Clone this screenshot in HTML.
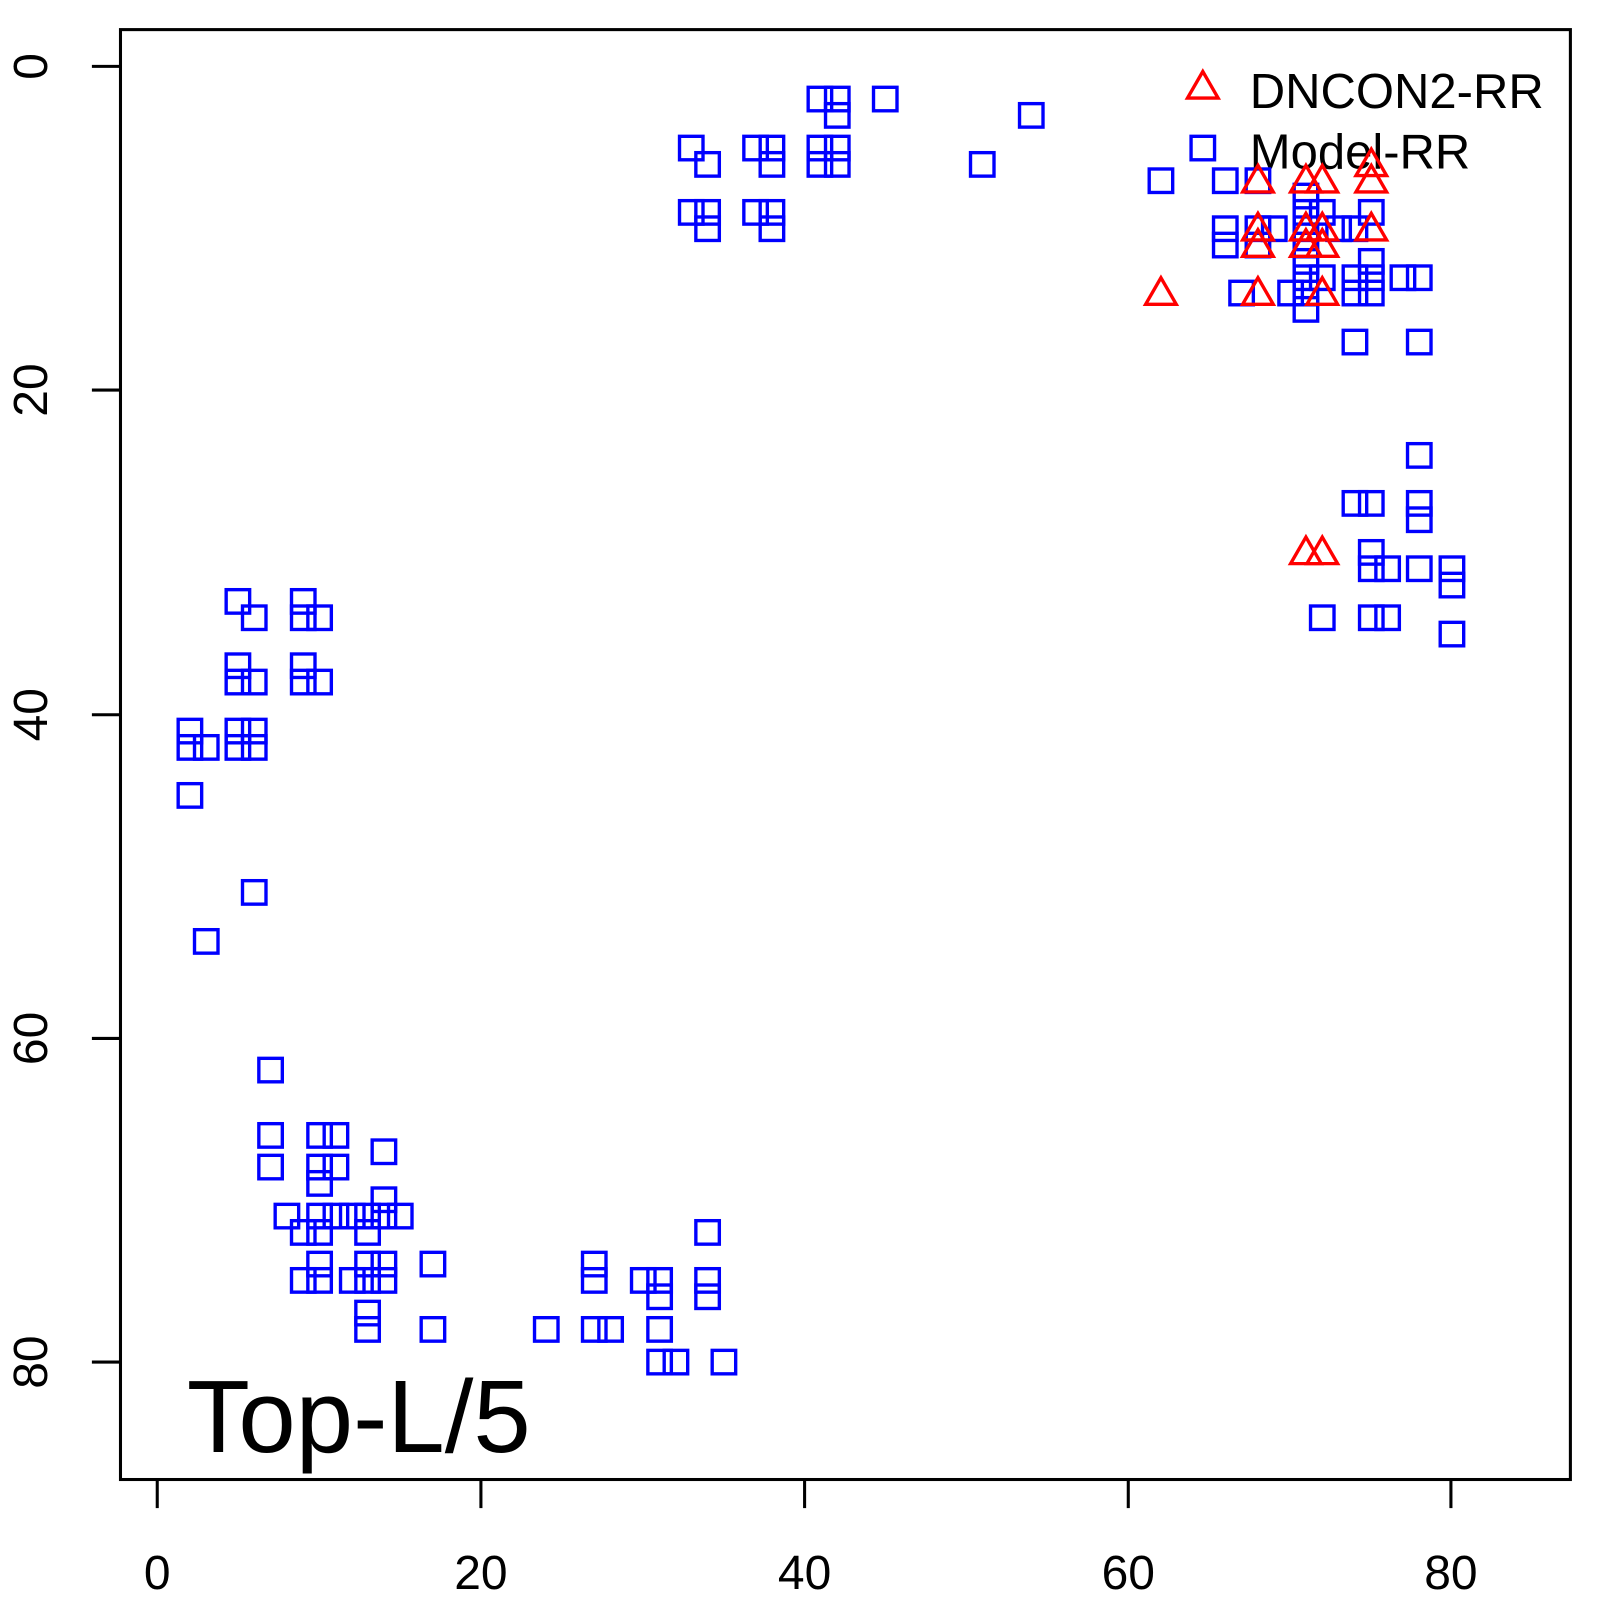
<!DOCTYPE html>
<html><head><meta charset="utf-8"><style>html,body{margin:0;padding:0;background:#fff}svg{display:block}</style></head>
<body>
<svg width="1600" height="1600" viewBox="0 0 1567 1567" xmlns="http://www.w3.org/2000/svg" font-family="Liberation Sans, sans-serif">
<rect x="0" y="0" width="1567" height="1567" fill="#fff"/>
<rect x="118" y="29" width="1420" height="1420" fill="none" stroke="#000" stroke-width="3"/>
<g stroke="#000" stroke-width="3">
<line x1="154" y1="1449" x2="154" y2="1477"/><line x1="471" y1="1449" x2="471" y2="1477"/><line x1="788" y1="1449" x2="788" y2="1477"/><line x1="1105" y1="1449" x2="1105" y2="1477"/><line x1="1421" y1="1449" x2="1421" y2="1477"/>
<line x1="90" y1="65" x2="118" y2="65"/><line x1="90" y1="382" x2="118" y2="382"/><line x1="90" y1="700" x2="118" y2="700"/><line x1="90" y1="1017" x2="118" y2="1017"/><line x1="90" y1="1334" x2="118" y2="1334"/>
</g>
<g font-size="47" text-anchor="middle" fill="#000">
<text x="154" y="1556">0</text><text x="471" y="1556">20</text><text x="788" y="1556">40</text><text x="1105" y="1556">60</text><text x="1421" y="1556">80</text>
<text transform="translate(46,65) rotate(-90)">0</text>
<text transform="translate(46,382) rotate(-90)">20</text>
<text transform="translate(46,700) rotate(-90)">40</text>
<text transform="translate(46,1017) rotate(-90)">60</text>
<text transform="translate(46,1334) rotate(-90)">80</text>
</g>
<text x="183" y="1422" font-size="101" fill="#000">Top-L/5</text>
<text x="1224" y="106" font-size="48" fill="#000">DNCON2-RR</text>
<text x="1224" y="165" font-size="48" fill="#000">Model-RR</text>
<g id="sq" fill="none" stroke="#00f" stroke-width="3.3"></g>
<g id="tr" fill="none" stroke="#f00" stroke-width="3.3"></g>
<script>
var S=[[677,145],[693,161],[677,208],[693,208],[693,224],[740,145],[756,145],[756,161],[740,208],[756,208],[756,224],[803,97],[820,97],[820,113],[803,145],[820,145],[803,161],[820,161],[867,97],[962,161],[1010,113],
[1137,177],[1178,145],[1200,177],[1200,224],[1200,240],[1216,287],[1232,177],[1232,224],[1232,240],[1248,224],[1264,287],[1279,192],[1279,208],[1279,224],[1279,240],[1279,256],[1279,272],[1279,287],[1279,303],[1295,208],[1295,272],[1311,224],[1327,224],[1327,272],[1327,287],[1343,208],[1343,256],[1343,272],[1343,287],[1327,335],[1374,272],[1390,272],[1390,335],[1390,446],[1343,493],[1327,493],[1390,493],[1390,509],[1343,541],[1343,557],[1359,557],[1390,557],[1422,557],[1422,573],[1295,605],[1343,605],[1359,605],[1422,621],
[233,589],[249,605],[297,589],[297,605],[313,605],[233,652],[233,668],[249,668],[297,652],[297,668],[313,668],[186,716],[186,732],[202,732],[233,716],[233,732],[249,716],[249,732],[186,779],[249,874],[202,922],
[265,1048],[265,1112],[265,1143],[313,1112],[329,1112],[313,1143],[329,1143],[313,1159],[376,1128],[281,1191],[297,1207],[313,1191],[329,1191],[345,1191],[360,1191],[376,1191],[392,1191],[313,1207],[360,1207],[376,1175],[297,1254],[313,1254],[313,1238],[345,1254],[360,1238],[360,1254],[376,1238],[376,1254],[360,1286],[360,1302],[424,1238],[424,1302],[535,1302],[582,1238],[582,1254],[582,1302],[598,1302],[630,1254],[646,1254],[646,1270],[646,1302],[646,1334],[662,1334],[693,1207],[693,1254],[693,1270],[709,1334]];
var T=[[1178,85],[1232,177],[1279,177],[1295,177],[1343,177],[1343,161],[1232,224],[1232,240],[1279,224],[1279,240],[1295,224],[1295,240],[1343,224],[1137,287],[1232,287],[1295,287],[1279,541],[1295,541]];
var ns="http://www.w3.org/2000/svg",g=document.getElementById("sq"),h=document.getElementById("tr");
S.forEach(function(p){var r=document.createElementNS(ns,"rect");r.setAttribute("x",p[0]-11.5);r.setAttribute("y",p[1]-11.5);r.setAttribute("width",23);r.setAttribute("height",23);g.appendChild(r);});
T.forEach(function(p){var r=document.createElementNS(ns,"polygon");var x=p[0],y=p[1];r.setAttribute("points",(x)+","+(y-15)+" "+(x-15)+","+(y+11)+" "+(x+15)+","+(y+11));h.appendChild(r);});
</script>
</svg>
</body></html>
